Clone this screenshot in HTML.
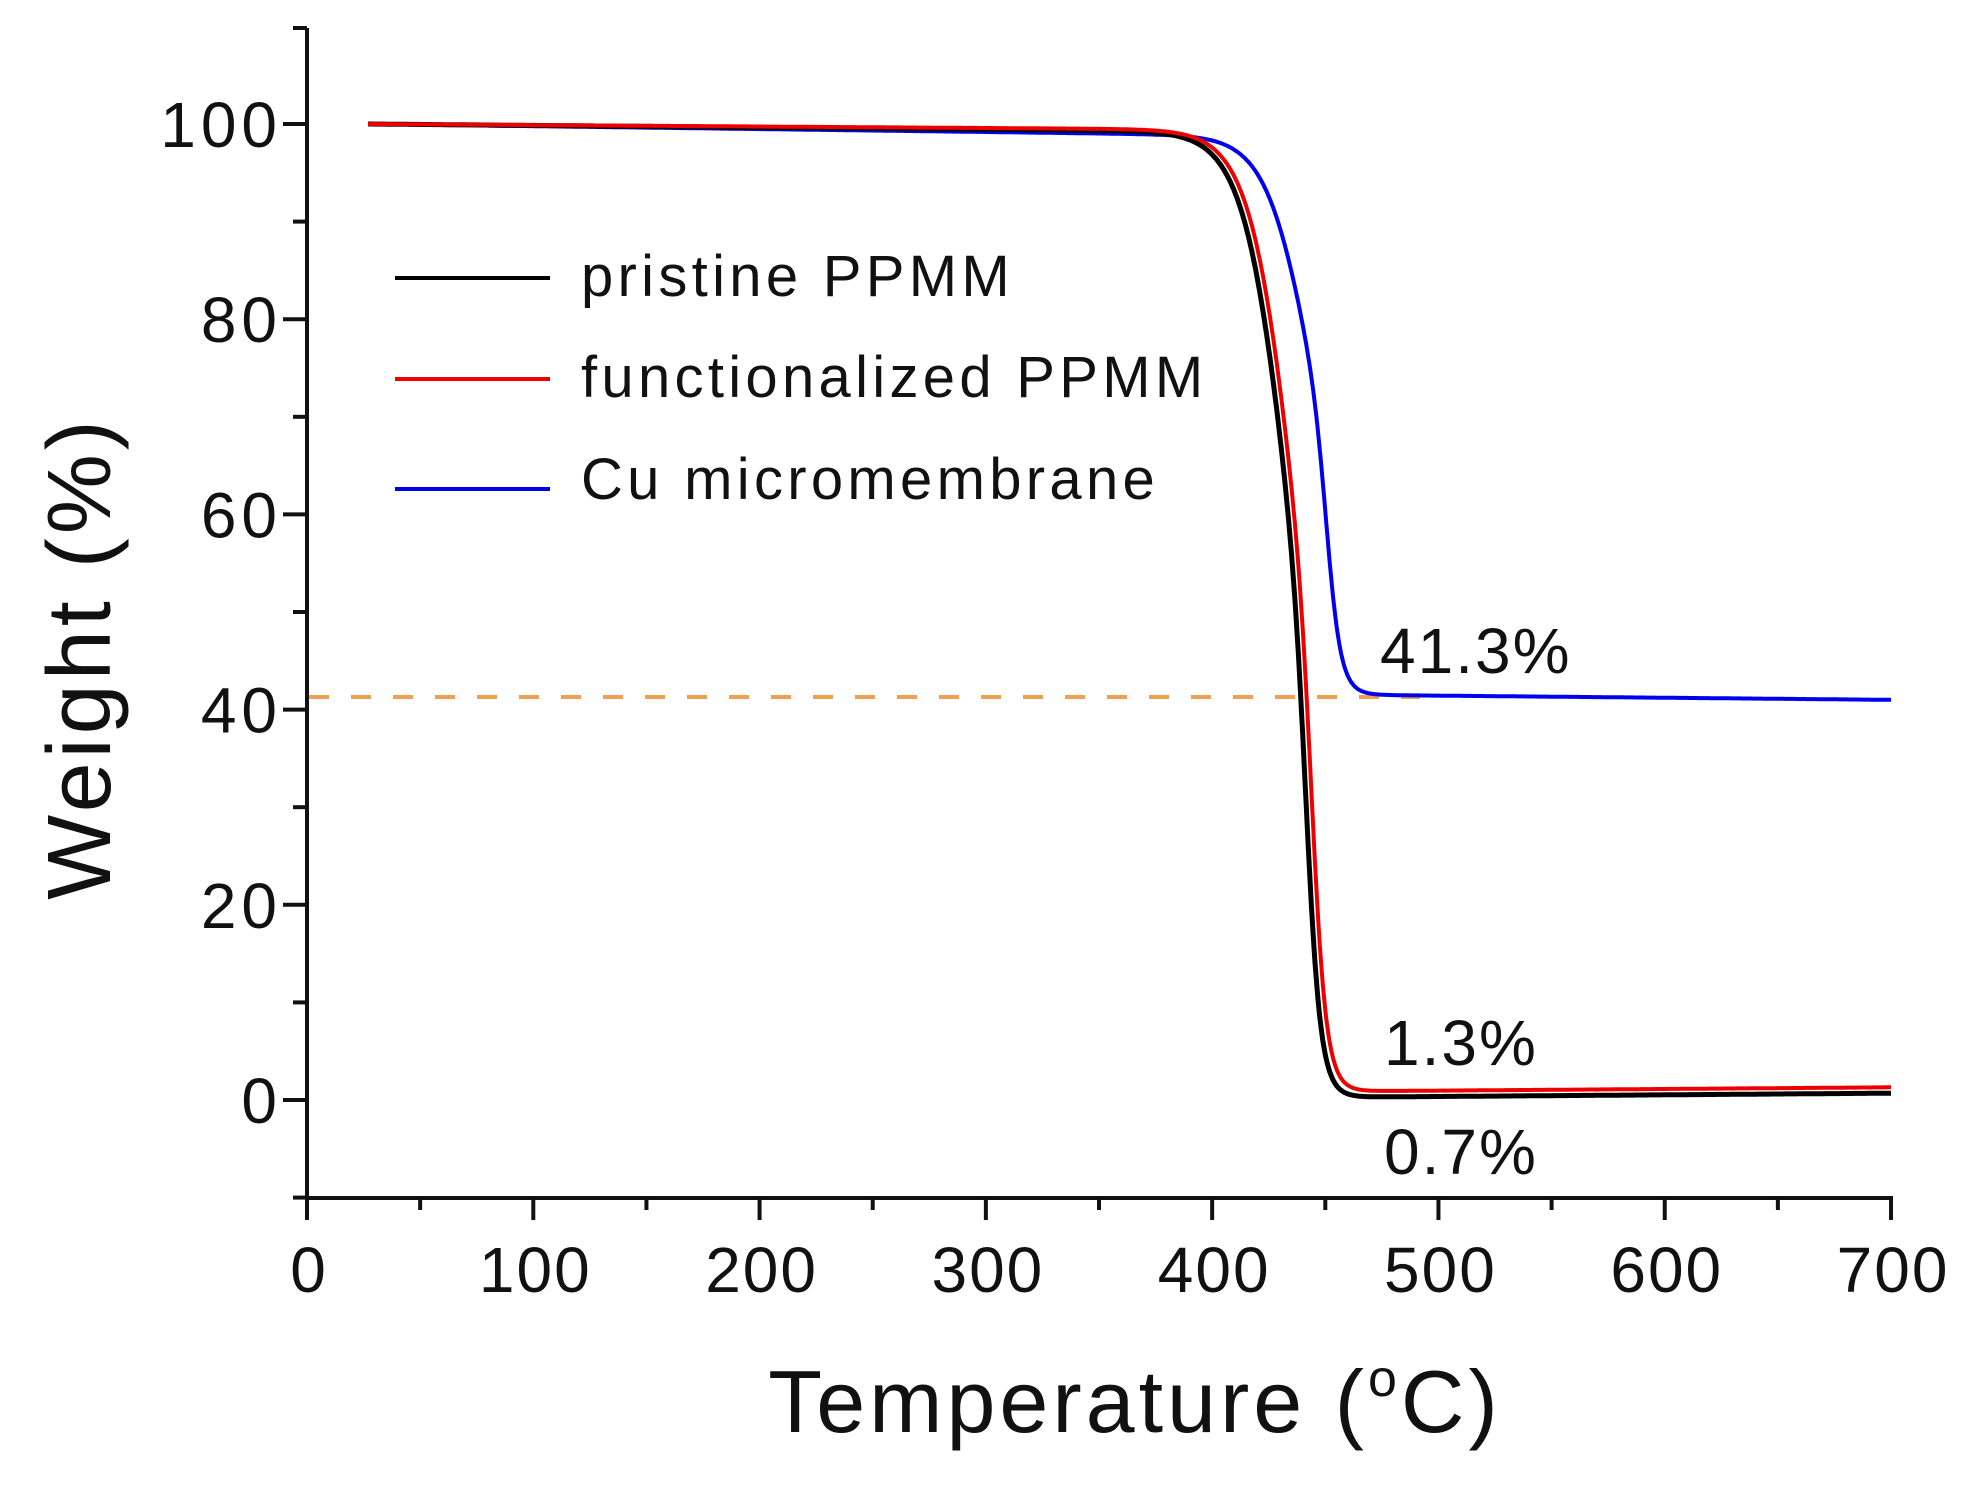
<!DOCTYPE html>
<html><head><meta charset="utf-8"><style>
html,body{margin:0;padding:0;background:#fff;width:1967px;height:1490px;overflow:hidden}
svg{display:block}
text{font-family:"Liberation Sans",sans-serif;fill:#111}
</style></head><body>
<svg id="s" width="1967" height="1490" viewBox="0 0 1967 1490" xmlns="http://www.w3.org/2000/svg">
<g stroke="#111" stroke-width="4" fill="none">
<line x1="307" y1="28" x2="307" y2="1200"/>
<line x1="305" y1="1198" x2="1893" y2="1198"/>
</g>
<g id="ticks" stroke="#111" stroke-width="4"></g>
<g id="lab" font-size="64" text-anchor="end" letter-spacing="5"></g>
<g id="xlab" font-size="64" text-anchor="middle" letter-spacing="2"></g>
<line x1="309" y1="697" x2="1420" y2="697" stroke="#f0a050" stroke-width="4" stroke-dasharray="20,22"/>
<path id="pb" fill="none" stroke="#0000ee" stroke-width="4"/>
<path id="pk" fill="none" stroke="#000" stroke-width="5"/>
<path id="pr" fill="none" stroke="#ee0000" stroke-width="4"/>
<line x1="395" y1="278" x2="550" y2="278" stroke="#000" stroke-width="4"/>
<line x1="395" y1="379" x2="550" y2="379" stroke="#ee0000" stroke-width="4"/>
<line x1="395" y1="489" x2="550" y2="489" stroke="#0000ee" stroke-width="4"/>
<g font-size="58" letter-spacing="4.3">
<text x="581" y="296">pristine PPMM</text>
<text x="581" y="397">functionalized PPMM</text>
<text x="581" y="499">Cu micromembrane</text>
</g>
<g font-size="64" letter-spacing="2">
<text x="1380" y="673">41.3%</text>
<text x="1384" y="1065">1.3%</text>
<text x="1384" y="1174">0.7%</text>
</g>
<text x="1135" y="1432" font-size="88" letter-spacing="4" text-anchor="middle">Temperature (<tspan font-size="52" dy="-36">o</tspan><tspan dy="36">C)</tspan></text>
<text x="0" y="0" font-size="90" letter-spacing="4" text-anchor="middle" transform="translate(110,658) rotate(-90)">Weight (%)</text>
</svg>
<script>
var X=function(t){return 307+t*2.2629},Y=function(w){return 1100-w*9.76};
var tk=document.getElementById('ticks'),lab=document.getElementById('lab'),xl=document.getElementById('xlab'),h='',l='',xh='';
for(var v=-10;v<=100;v+=10){var y=Y(v),maj=(v%20==0);h+='<line x1="'+(maj?283:293)+'" y1="'+y+'" x2="307" y2="'+y+'"/>';if(maj)l+='<text x="282" y="'+(y+23)+'">'+v+'</text>';}
h+='<line x1="293" y1="28" x2="307" y2="28"/>';
for(var t=0;t<=700;t+=50){var x=X(t),maj=(t%100==0);h+='<line x1="'+x+'" y1="1198" x2="'+x+'" y2="'+(maj?1220:1210)+'"/>';if(maj)xh+='<text x="'+(x+2)+'" y="1292">'+t+'</text>';}
tk.innerHTML=h;lab.innerHTML=l;xl.innerHTML=xh;
function sg(t,c,wa,wb){var w=wb+(wa-wb)/(1+Math.exp((t-c)/4));return 1/(1+Math.exp((t-c)/w));}
function blk(t){var r=0.3+(t>465?0.4*(t-465)/235:0);return r+(100-0.002*(t-27)-r)*sg(t,437,10,4);}
function red(t){var r=0.9+(t>465?0.4*(t-465)/235:0);return r+(100-0.0015*(t-27)-r)*sg(t,439.5,10,4);}
function blu(t){var r=41.5-(t>468?0.5*(t-468)/232:0);var s=sg(t,446,10,4);return r+(100-0.003*(t-27)-r)*s;}
function path(f){var d='';for(var t=27;t<=700;t+=0.5){d+=(t==27?'M':'L')+X(t).toFixed(1)+','+Y(f(t)).toFixed(1);}return d;}
document.getElementById('pk').setAttribute('d',path(blk));
document.getElementById('pr').setAttribute('d',path(red));
document.getElementById('pb').setAttribute('d',path(blu));
</script>
</body></html>
